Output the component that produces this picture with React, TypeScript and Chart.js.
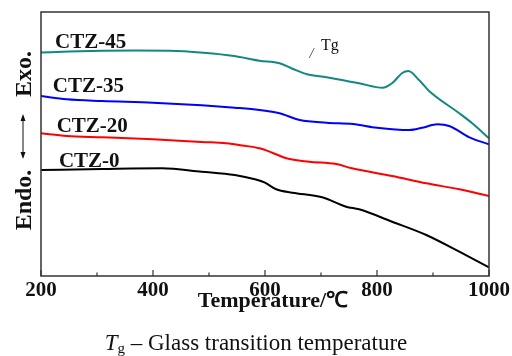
import React, { useEffect, useRef } from "react";
import { Chart, registerables } from "chart.js";

Chart.register(...registerables);

// Temperature (°C) and relative heat-flow readings for each sample
const ctz45T = [200, 250, 310, 370, 430, 490, 545, 590, 626, 650, 675, 710, 768, 810, 828, 845, 856, 875, 893, 947, 970, 1000];
const ctz45V = [223.5, 224.5, 225.3, 225.5, 225.3, 223.3, 220, 215.3, 212.7, 207, 201.7, 198.7, 192.7, 188.3, 193.3, 203, 205, 196, 185, 162.7, 152.7, 137.7];

const ctz35T = [200, 246, 309, 400, 487, 546, 590, 626, 662, 710, 757, 800, 858, 881, 908, 929, 965, 1000];
const ctz35V = [180, 176.7, 175, 173.3, 170.7, 168.3, 166, 162.7, 156, 153.3, 152, 148.3, 146, 148.3, 151.7, 150, 138.7, 131.7];

const ctz20T = [200, 246, 309, 400, 487, 531, 560, 590, 613, 638, 679, 727, 755, 827, 888, 947, 1000];
const ctz20V = [142.7, 140, 138.7, 136.7, 134, 132.7, 130.5, 127.7, 123.3, 117.7, 114.3, 112, 107.7, 100, 92.7, 86.7, 80];

const ctz0T = [200, 309, 416, 487, 546, 582, 600, 620, 649, 702, 745, 768, 827, 888, 947, 1000];
const ctz0V = [106, 107, 107.7, 104.3, 101, 96.7, 93.3, 86.7, 83.3, 78.7, 69.3, 66.7, 54.3, 41, 24.3, 8.7];

const seriesNames = ["CTZ-45", "CTZ-35", "CTZ-20", "CTZ-0"];
const seriesColors = ["#12897f", "#0000ff", "#ff0000", "#000000"];
const xMajorTicks = [200, 400, 600, 800, 1000];
const xMinorTicks = [300, 500, 700, 900];
const xTitle = "Temperature/℃";
const yTop = "Exo.";
const yBottom = "Endo.";
const tgLabel = "Tg";

const toPoints = (t: number[], v: number[]) => t.map((x, i) => ({ x, y: v[i] }));

const SERIF = "'Liberation Serif', 'Times New Roman', serif";

const decorPlugin = {
  id: "decor",
  afterDraw(chart: any) {
    const { ctx, chartArea } = chart;
    const xs = chart.scales.x;
    const ys = chart.scales.y;
    ctx.save();
    // frame
    ctx.strokeStyle = "#333";
    ctx.lineWidth = 1.5;
    ctx.strokeRect(chartArea.left, chartArea.top, chartArea.right - chartArea.left, chartArea.bottom - chartArea.top);
    // inward ticks on bottom axis
    ctx.lineWidth = 1.2;
    ctx.beginPath();
    xMajorTicks.forEach((t) => {
      const px = xs.getPixelForValue(t);
      ctx.moveTo(px, chartArea.bottom);
      ctx.lineTo(px, chartArea.bottom - 6);
    });
    xMinorTicks.forEach((t) => {
      const px = xs.getPixelForValue(t);
      ctx.moveTo(px, chartArea.bottom);
      ctx.lineTo(px, chartArea.bottom - 3.5);
    });
    ctx.stroke();

    // x-axis title (centred slightly right of the plot centre, as in the source)
    ctx.fillStyle = "#111";
    ctx.font = `bold 22px ${SERIF}`;
    ctx.textAlign = "center";
    ctx.textBaseline = "alphabetic";
    ctx.fillText(xTitle, 273, 307);

    // series labels
    ctx.font = `bold 21px ${SERIF}`;
    ctx.textAlign = "left";
    const anchors = [
      [225, 228],
      [221, 184],
      [228, 144],
      [232, 109],
    ];
    seriesNames.forEach((n, i) => {
      ctx.fillText(n, xs.getPixelForValue(anchors[i][0]), ys.getPixelForValue(anchors[i][1]));
    });

    // Tg annotation
    ctx.font = `16px ${SERIF}`;
    ctx.fillText(tgLabel, xs.getPixelForValue(700), ys.getPixelForValue(226));
    ctx.strokeStyle = "#444";
    ctx.lineWidth = 0.8;
    ctx.beginPath();
    ctx.moveTo(xs.getPixelForValue(679), ys.getPixelForValue(218));
    ctx.lineTo(xs.getPixelForValue(688), ys.getPixelForValue(228));
    ctx.stroke();

    // y-axis label with double arrow
    ctx.fillStyle = "#111";
    ctx.font = `bold 24px ${SERIF}`;
    ctx.textAlign = "center";
    const drawRot = (txt: string, cx: number, cy: number) => {
      ctx.save();
      ctx.translate(cx, cy);
      ctx.rotate(-Math.PI / 2);
      ctx.fillText(txt, 0, 0);
      ctx.restore();
    };
    drawRot(yTop, 31, 74);
    drawRot(yBottom, 31, 200);
    ctx.strokeStyle = "#111";
    ctx.lineWidth = 1;
    ctx.beginPath();
    ctx.moveTo(23, 116);
    ctx.lineTo(23, 157);
    ctx.stroke();
    ctx.beginPath();
    ctx.moveTo(23, 114);
    ctx.lineTo(20.5, 121);
    ctx.lineTo(25.5, 121);
    ctx.closePath();
    ctx.moveTo(23, 159);
    ctx.lineTo(20.5, 152);
    ctx.lineTo(25.5, 152);
    ctx.closePath();
    ctx.fill();
    ctx.restore();
  },
};

export default function App() {
  const ref = useRef<HTMLCanvasElement | null>(null);
  useEffect(() => {
    if (!ref.current) return;
    const mk = (i: number, t: number[], v: number[]) => ({
      label: seriesNames[i],
      data: toPoints(t, v),
      borderColor: seriesColors[i],
      backgroundColor: seriesColors[i],
      borderWidth: 2,
      pointRadius: 0,
      cubicInterpolationMode: "monotone" as const,
      fill: false,
    });
    const chart = new Chart(ref.current, {
      type: "line",
      data: {
        datasets: [
          mk(0, ctz45T, ctz45V),
          mk(1, ctz35T, ctz35V),
          mk(2, ctz20T, ctz20V),
          mk(3, ctz0T, ctz0V),
        ],
      },
      options: {
        animation: false,
        responsive: false,
        layout: { padding: { left: 41, right: 22, top: 12, bottom: 40 } },
        plugins: { legend: { display: false }, tooltip: { enabled: false } },
        scales: {
          x: {
            type: "linear",
            min: 200,
            max: 1000,
            afterBuildTicks: (s: any) => {
              s.ticks = xMajorTicks.map((v) => ({ value: v }));
            },
            afterFit: (s: any) => {
              s.height = 40;
            },
            grid: { display: false, drawTicks: false },
            border: { display: false },
            ticks: {
              padding: 2,
              color: "#111",
              font: { family: SERIF, size: 21, weight: "bold" },
              maxRotation: 0,
              autoSkip: false,
              callback: (v: any) => String(v),
            },
            title: { display: false },
          },
          y: {
            type: "linear",
            min: 0,
            max: 264,
            display: false,
          },
        },
      },
      plugins: [decorPlugin],
    });
    return () => chart.destroy();
  }, []);
  return (
    <div style={{ position: "absolute", left: 0, top: 0, width: 512, height: 356, background: "#fff" }}>
      <canvas ref={ref} width={512} height={356} style={{ display: "block" }} />
      <div
        style={{
          position: "absolute",
          left: 0,
          top: 331,
          width: 512,
          textAlign: "center",
          fontFamily: SERIF,
          fontSize: 23,
          color: "#111",
          lineHeight: "24px",
          whiteSpace: "nowrap",
        }}
      >
        <i>T</i>
        <sub style={{ fontSize: 15, verticalAlign: "-3px" }}>g</sub> – Glass transition temperature
      </div>
    </div>
  );
}
